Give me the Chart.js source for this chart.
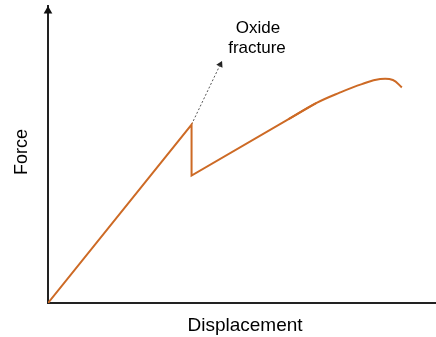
<!DOCTYPE html>
<html>
<head>
<meta charset="utf-8">
<script src="https://cdn.jsdelivr.net/npm/chart.js@4"></script>
<style>
  body { margin: 0; background: #fff; }
  canvas { display: block; }
</style>
</head>
<body>
<canvas id="grafico" width="436" height="337"></canvas>
<script>
// curva fuerza-desplazamiento (unidades arbitrarias, 0..100)
const tramoElastico = [
  { x: 0, y: 0 },
  { x: 37.0, y: 60.1 },
  { x: 37.0, y: 42.9 },
  { x: 69.1, y: 67.3 }
];
const tramoCurvo = [
  { x: 62.0, y: 61.9 },
  { x: 69.1, y: 67.3 },
  { x: 75.3, y: 70.9 },
  { x: 80.9, y: 73.7 },
  { x: 85.6, y: 75.4 },
  { x: 88.9, y: 75.1 },
  { x: 91.2, y: 72.6 }
];
// flecha punteada hacia la etiqueta
const flecha = [
  { x: 37.0, y: 60.1 },
  { x: 44.4, y: 80.3 }
];
const puntaFlecha = [{ x: 44.4, y: 80.3 }];
const puntaEjeY = [{ x: 0, y: 98.3 }];

const etiquetaX = 'Displacement';
const etiquetaY = 'Force';
const etiquetaFractura = ['Oxide', 'fracture'];

const naranja = '#CD6A25';
const fuente = '"Liberation Sans", Arial, sans-serif';

const textos = {
  id: 'textos',
  afterDraw(chart) {
    const { ctx } = chart;
    ctx.save();
    ctx.fillStyle = '#000';
    ctx.textAlign = 'center';
    ctx.textBaseline = 'alphabetic';
    ctx.font = '17px ' + fuente;
    ctx.fillText(etiquetaFractura[0], 258, 33);
    ctx.fillText(etiquetaFractura[1], 257, 53);
    ctx.font = '19px ' + fuente;
    ctx.fillText(etiquetaX, 245, 331);
    ctx.translate(27, 152);
    ctx.rotate(-Math.PI / 2);
    ctx.font = '18px ' + fuente;
    ctx.fillText(etiquetaY, 0, 0);
    ctx.restore();
  }
};

new Chart(document.getElementById('grafico'), {
  type: 'scatter',
  data: {
    datasets: [
      {
        data: tramoElastico,
        showLine: true,
        borderColor: naranja,
        borderWidth: 2,
        pointRadius: 0,
        tension: 0
      },
      {
        data: tramoCurvo,
        showLine: true,
        borderColor: naranja,
        borderWidth: 2,
        pointRadius: 0,
        tension: 0.4
      },
      {
        data: flecha,
        showLine: true,
        borderColor: '#555',
        borderWidth: 1,
        borderDash: [2, 2],
        pointRadius: 0
      },
      {
        data: puntaFlecha,
        pointStyle: 'triangle',
        rotation: 26,
        pointRadius: 4,
        backgroundColor: '#222',
        borderColor: '#222',
        borderWidth: 0
      },
      {
        data: puntaEjeY,
        pointStyle: 'triangle',
        pointRadius: 5,
        backgroundColor: '#111',
        borderColor: '#111',
        borderWidth: 0,
        clip: false
      }
    ]
  },
  options: {
    responsive: false,
    animation: false,
    events: [],
    layout: { autoPadding: false, padding: { left: 48, top: 6, right: 0, bottom: 34 } },
    plugins: {
      legend: { display: false },
      tooltip: { enabled: false }
    },
    scales: {
      x: {
        type: 'linear',
        min: 0,
        max: 100,
        grid: { display: false, drawTicks: false },
        ticks: { display: false },
        border: { display: true, color: '#222', width: 2 }
      },
      y: {
        type: 'linear',
        min: 0,
        max: 100,
        grid: { display: false, drawTicks: false },
        ticks: { display: false },
        border: { display: true, color: '#222', width: 2 }
      }
    }
  },
  plugins: [textos]
});
</script>
</body>
</html>
